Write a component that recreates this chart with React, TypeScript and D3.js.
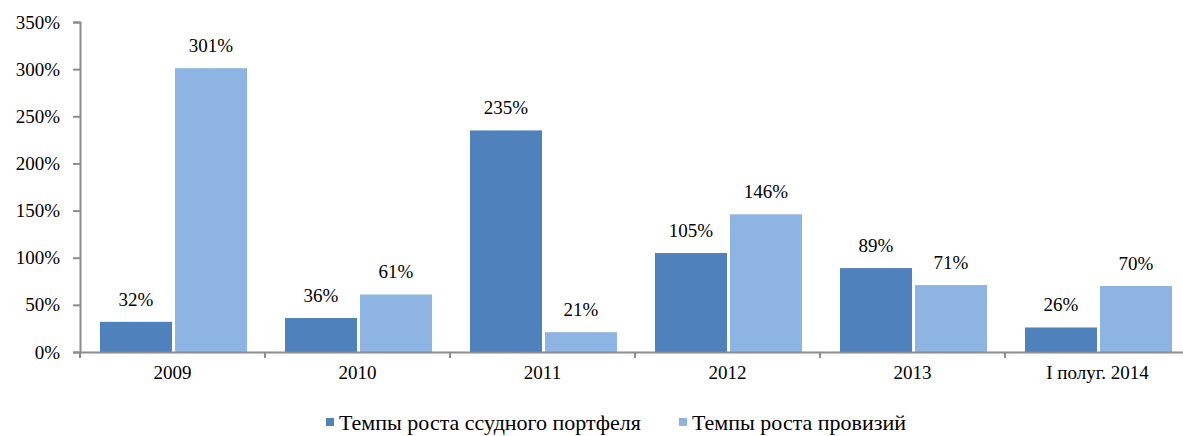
import React, { useEffect, useRef } from "react";
import * as d3 from "d3";

const width = 1183;
const height = 436;
const margin = { top: 22, right: -7, bottom: 84, left: 80 };

const categories = ["2009", "2010", "2011", "2012", "2013", "I полуг. 2014"];
const loanGrowth = [32, 36, 235, 105, 89, 26];
const provisionGrowth = [301, 61, 21, 146, 71, 70];
const yTicks = [0, 50, 100, 150, 200, 250, 300, 350];
const seriesNames = ["Темпы роста ссудного портфеля", "Темпы роста провизий"];
const colors = ["#4F81BD", "#8EB4E3"];

const font = "'Liberation Serif', 'Times New Roman', serif";
const fs = 19;
const legendFs = 22;

export default function App() {
  const yAxisRef = useRef<SVGGElement>(null);
  const xAxisRef = useRef<SVGGElement>(null);

  const x = d3
    .scaleBand()
    .domain(categories)
    .range([margin.left, width - margin.right])
    .paddingInner(0)
    .paddingOuter(0);
  const inner = d3
    .scaleBand()
    .domain(["0", "1"])
    .range([x.bandwidth() * 0.108, x.bandwidth() * 0.903])
    .paddingInner(0.04)
    .paddingOuter(0);
  const y = d3
    .scaleLinear()
    .domain([0, 350])
    .range([height - margin.bottom, margin.top]);

  useEffect(() => {
    const ya = d3
      .axisLeft(y)
      .tickValues(yTicks)
      .tickSize(7)
      .tickPadding(13)
      .tickFormat((d) => d + "%");
    const yg = d3.select(yAxisRef.current!).call(ya);
    yg.attr("font-family", font).attr("font-size", fs);
    yg.selectAll("text").attr("fill", "#000");
    yg.selectAll("line,path").attr("stroke", "#8c8c8c").attr("stroke-width", 2);

    const xa = d3.axisBottom(x).tickSize(0).tickPadding(14);
    const xg = d3.select(xAxisRef.current!).call(xa);
    xg.attr("font-family", font).attr("font-size", fs);
    xg.selectAll("text").attr("fill", "#000");
    xg.select("path.domain").attr("stroke", "#8c8c8c").attr("stroke-width", 2);
    xg.selectAll(".boundary").remove();
    xg.selectAll(".boundary")
      .data(categories)
      .enter()
      .append("line")
      .attr("class", "boundary")
      .attr("x1", (d) => x(d)!)
      .attr("x2", (d) => x(d)!)
      .attr("y1", 0)
      .attr("y2", 6)
      .attr("stroke", "#8c8c8c")
      .attr("stroke-width", 2);
  });

  const series = [loanGrowth, provisionGrowth];

  return (
    <svg
      width={width}
      height={height}
      style={{ position: "absolute", left: 0, top: 0, fontFamily: font }}
    >
      <rect width={width} height={height} fill="#fff" />
      {series.map((vals, s) =>
        vals.map((v, i) => {
          const bx = x(categories[i])! + inner(String(s))!;
          return (
            <g key={`${s}-${i}`}>
              <rect
                x={bx}
                y={y(v)}
                width={inner.bandwidth()}
                height={y(0) - y(v)}
                fill={colors[s]}
              />
              <text
                x={bx + inner.bandwidth() / 2}
                y={y(v) - 16}
                textAnchor="middle"
                fontFamily={font}
                fontSize={fs}
              >
                {v}%
              </text>
            </g>
          );
        })
      )}
      <g ref={yAxisRef} transform={`translate(${margin.left},0)`} />
      <g ref={xAxisRef} transform={`translate(0,${y(0)})`} />
      <g fontFamily={font} fontSize={legendFs}>
        <rect x={326} y={418} width={8} height={8} fill={colors[0]} />
        <text x={339} y={430}>{seriesNames[0]}</text>
        <rect x={679} y={418} width={8} height={8} fill={colors[1]} />
        <text x={692} y={430}>{seriesNames[1]}</text>
      </g>
    </svg>
  );
}
